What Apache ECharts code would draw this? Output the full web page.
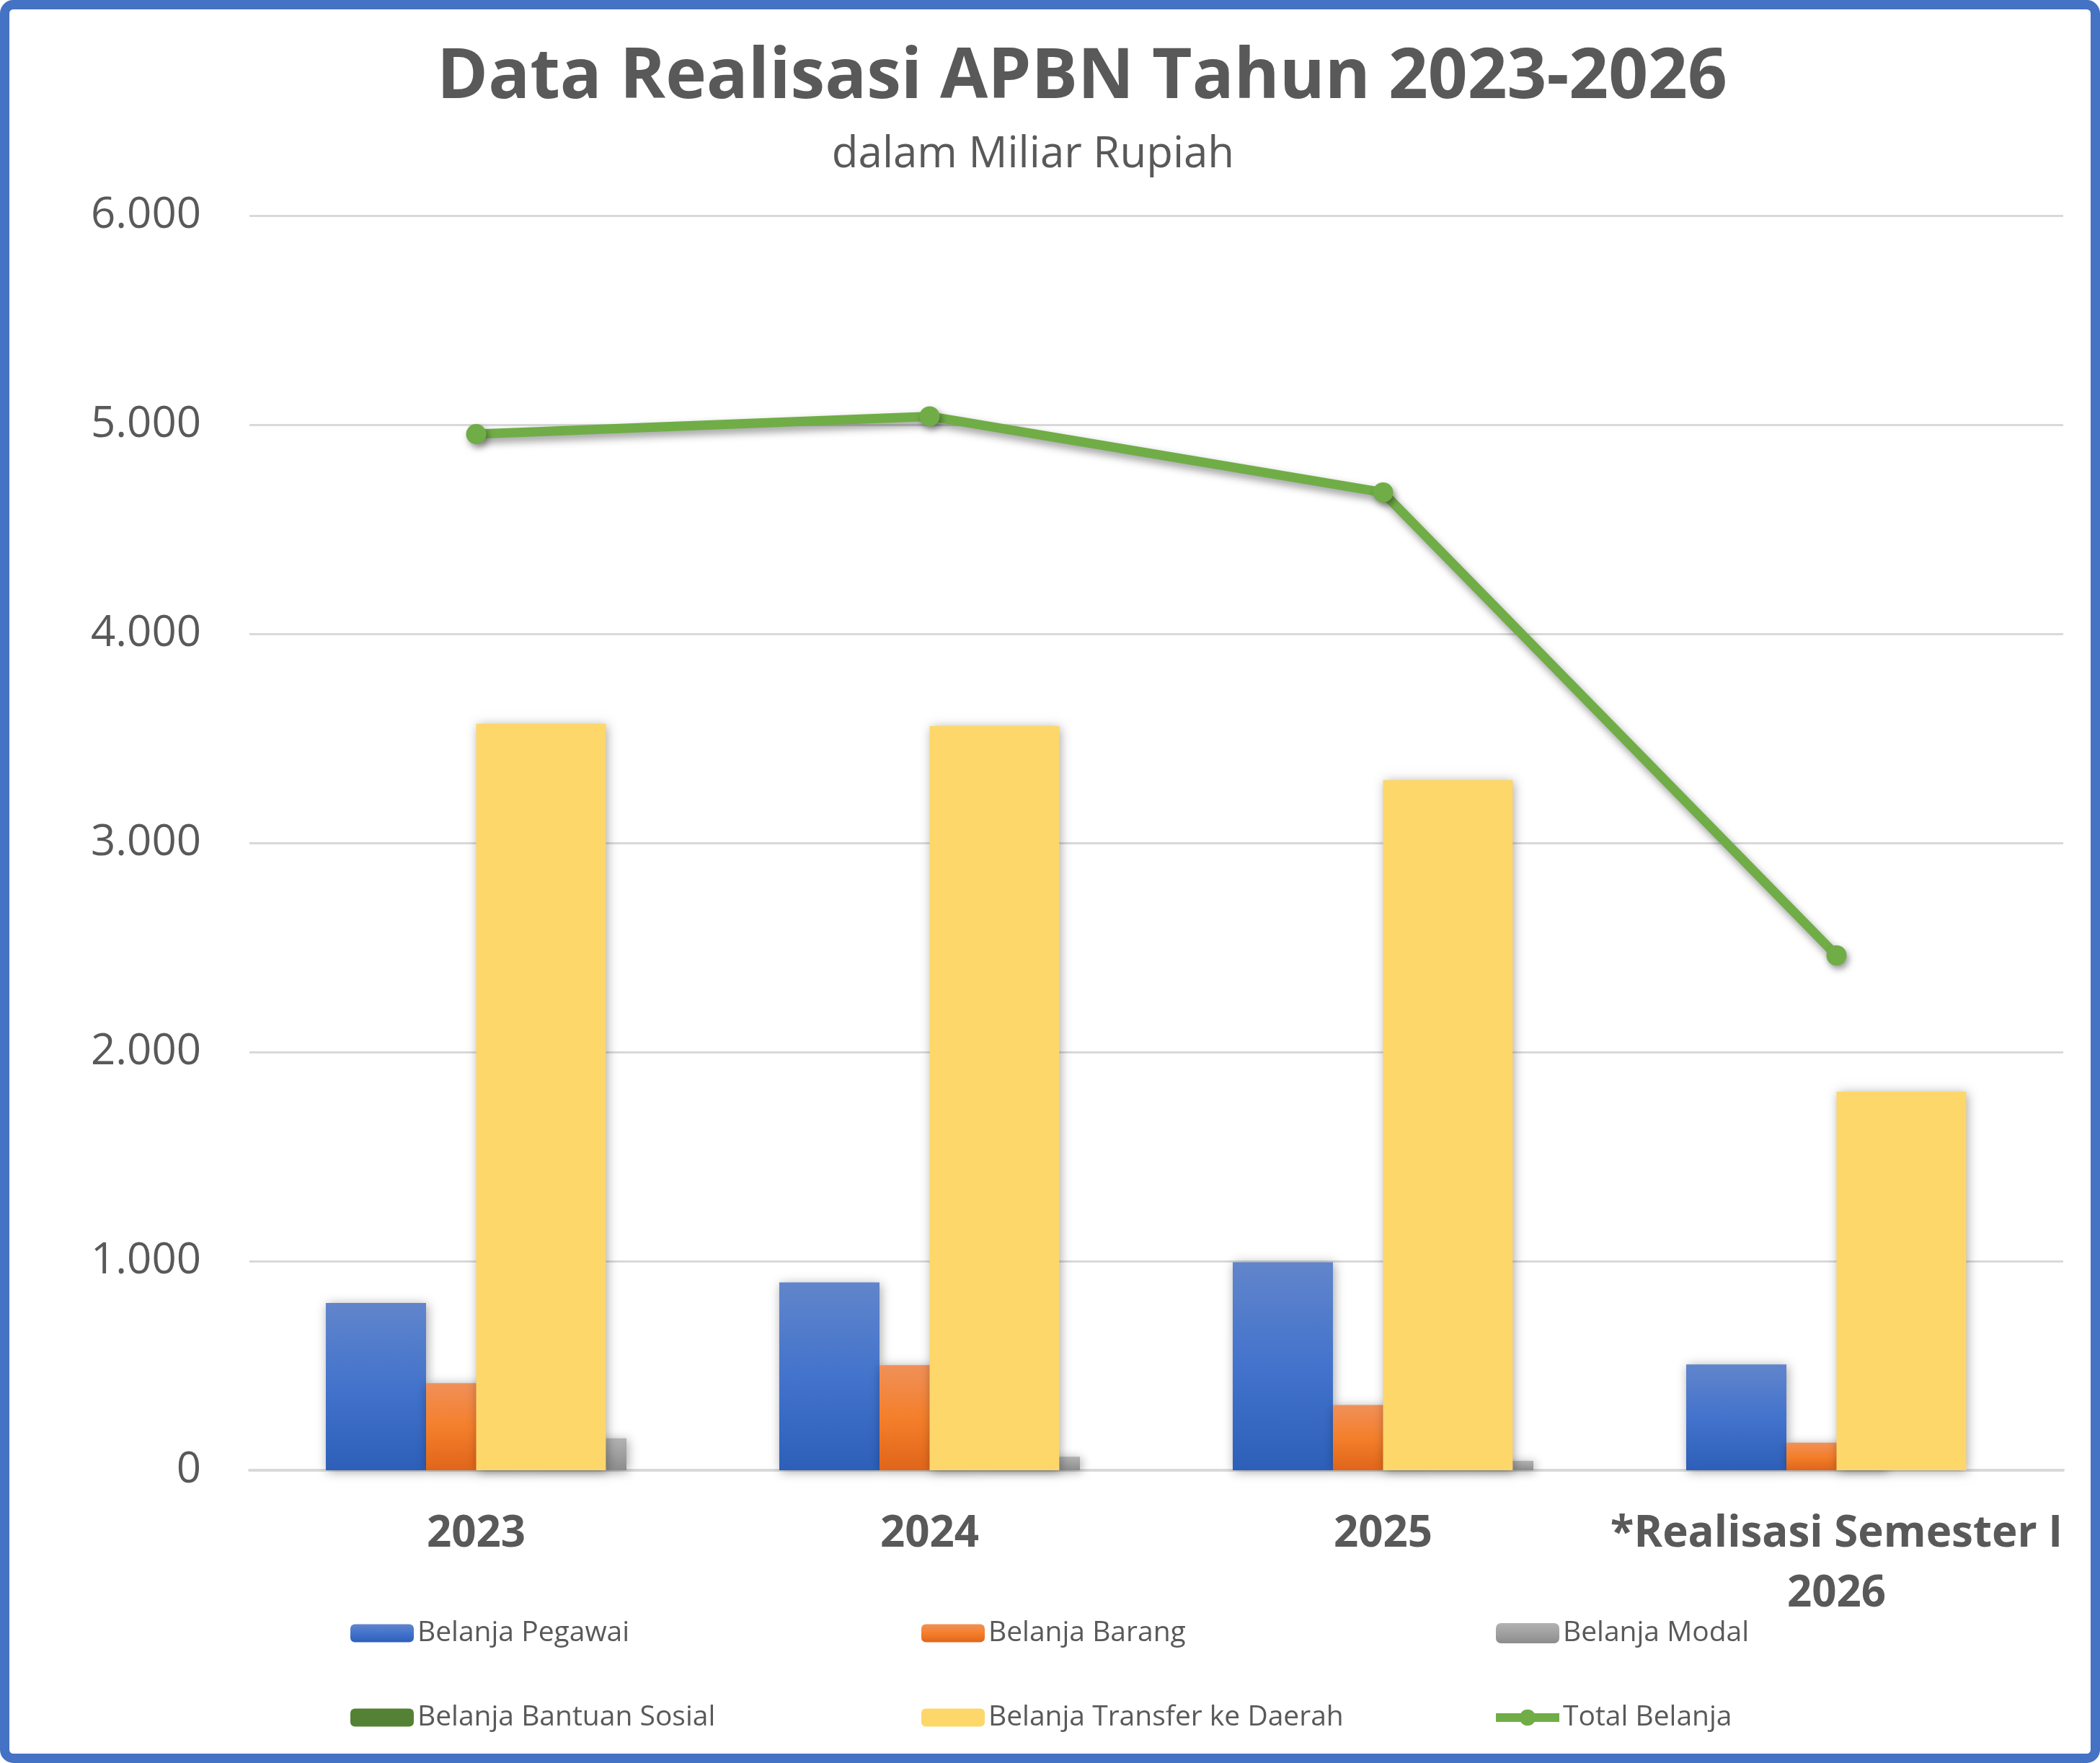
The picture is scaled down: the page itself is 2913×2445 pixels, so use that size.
<!DOCTYPE html>
<html>
<head>
<meta charset="utf-8">
<script src="https://cdn.jsdelivr.net/npm/echarts@6/dist/echarts.min.js"></script>
<style>
  html, body { margin: 0; padding: 0; background: #fff; }
  #chart { width: 2913px; height: 2445px; }
</style>
</head>
<body>
<div id="chart"></div>
<script>
const categories = ['2023', '2024', '2025', '*Realisasi Semester I\n2026'];
const yTicks = [0, 1000, 2000, 3000, 4000, 5000, 6000];

const belanjaPegawai = [800, 898, 995, 506];
const belanjaBarang = [416, 503, 312, 132];
const belanjaModal = [153, 65, 45, 0];
const belanjaBansos = [0, 0, 0, 0];
const belanjaTransfer = [3570, 3559, 3300, 1810];
const totalBelanja = [4955, 5040, 4676, 2462];

const textColor = '#595959';
const font = '"Open Sans", "Noto Sans", sans-serif';

function vgrad(stops) {
    return new echarts.graphic.LinearGradient(0, 0, 0, 1,
        stops.map((c, i) => ({ offset: i / (stops.length - 1), color: c })));
}

const barShadow = {
    shadowBlur: 14,
    shadowColor: 'rgba(0,0,0,0.35)',
    shadowOffsetX: 2,
    shadowOffsetY: 2
};

const chart = echarts.init(document.getElementById('chart'));

const legendText = { color: textColor, fontFamily: font, fontSize: 39, lineHeight: 44 };
function legendCol(left, names) {
    return {
        orient: 'vertical',
        left: left,
        top: 2238,
        itemWidth: 88,
        itemHeight: 25,
        itemGap: 73,
        data: names,
        textStyle: legendText
    };
}

chart.setOption({
    backgroundColor: '#fff',
    animation: false,
    title: [
        {
            text: 'Data Realisasi APBN Tahun 2023-2026',
            left: 1496,
            textAlign: 'center',
            top: 56,
            textStyle: { color: textColor, fontFamily: font, fontWeight: 'bold', fontSize: 96 }
        },
        {
            text: 'dalam Miliar Rupiah',
            left: 1428,
            textAlign: 'center',
            top: 180,
            textStyle: { color: textColor, fontFamily: font, fontWeight: 'normal', fontSize: 60 }
        }
    ],
    legend: [
        legendCol(481, ['Belanja Pegawai', 'Belanja Bantuan Sosial']),
        legendCol(1273, ['Belanja Barang', 'Belanja Transfer ke Daerah']),
        Object.assign(legendCol(2064, [
            'Belanja Modal',
            { name: 'Total Belanja', lineStyle: { width: 12 }, itemStyle: { shadowBlur: 0 } }
        ]), { itemHeight: 28 })
    ],
    grid: { left: 346, right: 51, top: 299, bottom: 406 },
    xAxis: [
        {
            type: 'category',
            data: categories,
            axisTick: { show: false },
            axisLine: { lineStyle: { color: '#d9d9d9', width: 4 } },
            axisLabel: {
                color: textColor, fontFamily: font, fontWeight: 'bold',
                fontSize: 60, lineHeight: 83, margin: 47, interval: 0
            }
        },
        {
            type: 'category',
            data: categories,
            show: false
        }
    ],
    yAxis: {
        type: 'value',
        min: yTicks[0],
        max: yTicks[yTicks.length - 1],
        interval: 1000,
        axisLine: { show: false },
        axisTick: { show: false },
        splitLine: { lineStyle: { color: '#d9d9d9', width: 3 } },
        axisLabel: {
            color: textColor, fontFamily: font, fontSize: 60, margin: 67,
            formatter: v => v.toLocaleString('de-DE')
        }
    },
    series: [
        {
            name: 'Belanja Pegawai', type: 'bar', xAxisIndex: 0,
            barWidth: '22.1%', barGap: '0%',
            data: belanjaPegawai,
            itemStyle: Object.assign({ color: vgrad(['#6185cb', '#4373cc', '#2d5fb9']) }, barShadow)
        },
        {
            name: 'Belanja Barang', type: 'bar', xAxisIndex: 0,
            barWidth: '22.1%', barGap: '0%',
            data: belanjaBarang,
            itemStyle: Object.assign({ color: vgrad(['#f09058', '#f47f2b', '#e0651a']) }, barShadow)
        },
        {
            name: 'Belanja Modal', type: 'bar', xAxisIndex: 0,
            barWidth: '22.1%', barGap: '0%',
            data: belanjaModal,
            itemStyle: Object.assign({ color: vgrad(['#b2b2b2', '#a0a0a0', '#8c8c8c']) }, barShadow)
        },
        {
            name: 'Belanja Bantuan Sosial', type: 'bar', xAxisIndex: 1,
            barWidth: '28.6%', barGap: '0%',
            data: belanjaBansos,
            itemStyle: Object.assign({ color: '#548235' }, barShadow)
        },
        {
            name: 'Belanja Transfer ke Daerah', type: 'bar', xAxisIndex: 1,
            barWidth: '28.6%', barGap: '0%',
            data: belanjaTransfer,
            itemStyle: Object.assign({ color: '#fdd76a' }, barShadow)
        },
        {
            name: 'Total Belanja', type: 'line', xAxisIndex: 1,
            data: totalBelanja,
            symbol: 'circle',
            symbolSize: 28,
            z: 5,
            lineStyle: {
                color: '#70ad47', width: 13,
                shadowBlur: 12, shadowColor: 'rgba(0,0,0,0.4)', shadowOffsetX: 3, shadowOffsetY: 6
            },
            itemStyle: {
                color: '#70ad47',
                shadowBlur: 10, shadowColor: 'rgba(0,0,0,0.4)', shadowOffsetX: 3, shadowOffsetY: 5
            }
        }
    ],
    graphic: [
        {
            type: 'rect',
            silent: true,
            z: 100,
            shape: { x: 6.5, y: 6.5, width: 2900, height: 2432, r: 12 },
            style: { fill: 'none', stroke: '#4472c4', lineWidth: 13 }
        }
    ]
});
</script>
</body>
</html>
